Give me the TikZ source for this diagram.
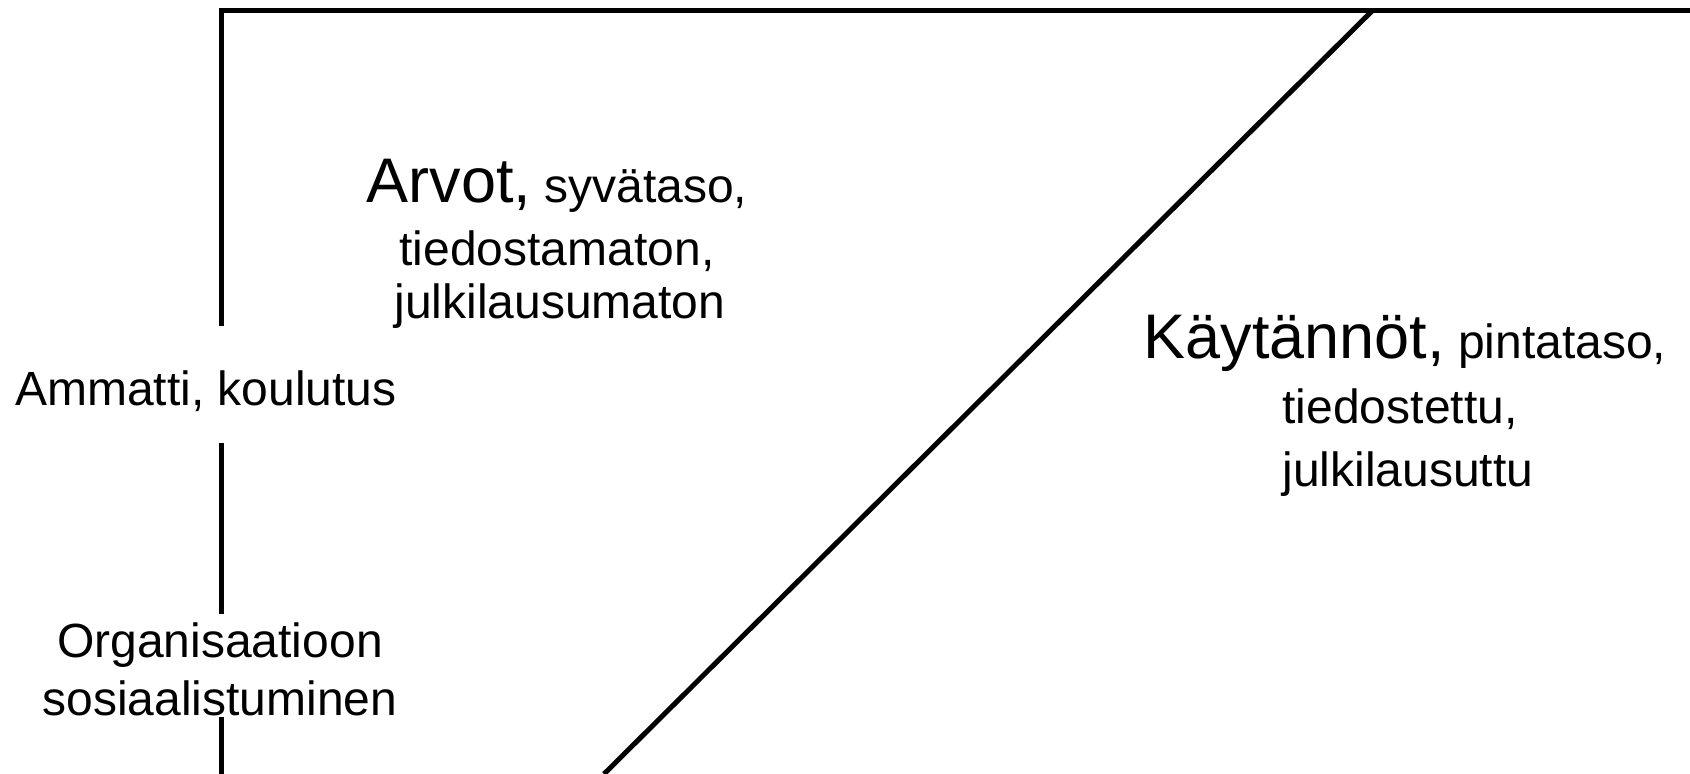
\documentclass[tikz,border=0pt]{standalone}
\usepackage{fontspec}
\setmainfont{Liberation Sans}
\begin{document}
\begin{tikzpicture}[x=1pt,y=-1pt,
  lbl/.style={anchor=base, inner sep=0pt, font=\fontsize{48}{57}\selectfont},
  rule/.style={line width=5pt, line cap=butt, line join=miter, black}]
\useasboundingbox (0,0) rectangle (1690,774);
% frame coordinates
\coordinate (tl) at (221,10);
\coordinate (tr) at (1690,10);
\coordinate (g1) at (221,326);
\coordinate (g2) at (221,443);
\coordinate (g3) at (221,614);
\coordinate (g4) at (221,717);
\coordinate (bl) at (221,774);
\coordinate (dtop) at (1373,10);
\coordinate (dbot) at (604,774);
\draw[rule] (g1) -- (tl) -- (tr);
\draw[rule] (g2) -- (g3);
\draw[rule] (g4) -- (bl);
\draw[rule] (dtop) -- (dbot);
% left labels
\node[lbl] (amm) at (206,405) {Ammatti, koulutus};
\node[lbl] (org1) at (220,657) {Organisaatioon};
\node[lbl] (org2) at (220,715) {sosiaalistuminen};
% Arvot block
\node[lbl] (arv1) at (557,202) {{\fontsize{63}{63}\selectfont Arvot,} syvätaso,};
\node[lbl] (arv2) at (557,265) {tiedostamaton,};
\node[lbl] (arv3) at (560,318) {julkilausumaton};
% Kaytannot block
\node[lbl] (kay1) at (1405,358) {{\fontsize{63}{63}\selectfont Käytännöt,} pintataso,};
\node[lbl] (kay2) at (1400,423) {tiedostettu,};
\node[lbl] (kay3) at (1408,486) {julkilausuttu};
\end{tikzpicture}
\end{document}
